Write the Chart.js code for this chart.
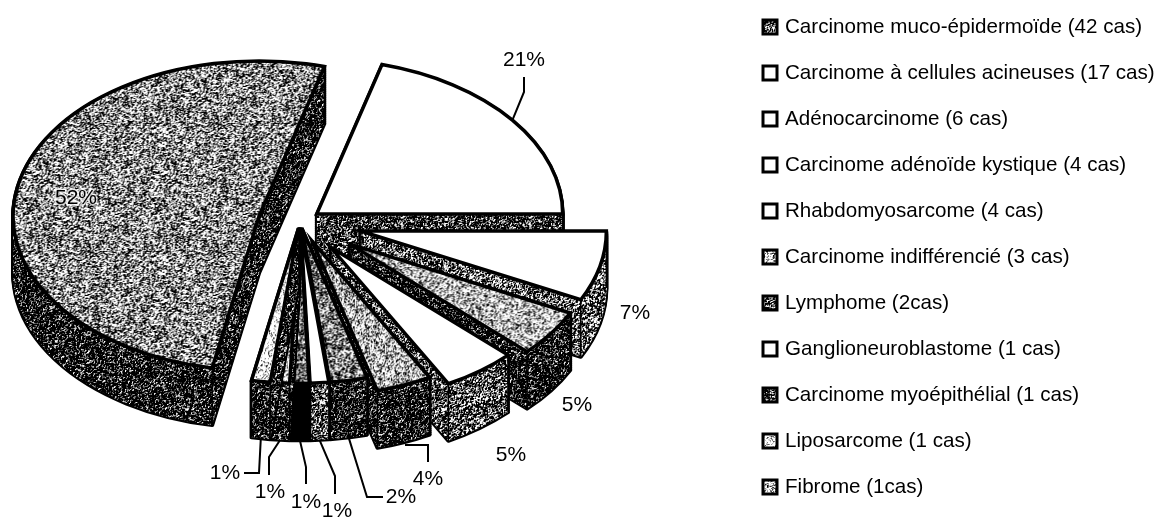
<!DOCTYPE html>
<html lang="fr">
<head>
<meta charset="UTF-8" />
<title>Répartition des tumeurs</title>
<script src="https://cdn.jsdelivr.net/npm/chart.js"></script>
<style>
    html, body { margin: 0; padding: 0; background: #fff; }
    #wrap { width: 1159px; height: 517px; position: relative; }
</style>
</head>
<body>
<div id="wrap"><canvas id="tumeurs" width="1159" height="517"></canvas></div>
<script>
// Valeurs
const categories = [
    'Carcinome muco-épidermoïde (42 cas)',
    'Carcinome à cellules acineuses (17 cas)',
    'Adénocarcinome (6 cas)',
    'Carcinome adénoïde kystique (4 cas)',
    'Rhabdomyosarcome (4 cas)',
    'Carcinome indifférencié (3 cas)',
    'Lymphome (2cas)',
    'Ganglioneuroblastome (1 cas)',
    'Carcinome myoépithélial (1 cas)',
    'Liposarcome (1 cas)',
    'Fibrome (1cas)',
];
const cas = [42, 17, 6, 4, 4, 3, 2, 1, 1, 1, 1];
const pourcentages = ['52%', '21%', '7%', '5%', '5%', '4%', '2%', '1%', '1%', '1%', '1%'];

// Trames (part de noir) : dessus, flanc, case de légende
const trameDessus = [0.46, 0, 0, 0.3, 0, 0.34, 0.52, 0, 0.6, 0.2, 0.1];
const trameFlanc = [0.86, 0.74, 0.6, 0.87, 0.66, 0.86, 0.87, 0.64, 1, 0.84, 0.84];
const trameLegende = [0.6, 0, 0, 0, 0, 0.25, 0.65, 0, 0.75, 0.12, 0.2];

// Réglages de la perspective
const RX = 246, RY = 155, EPAISSEUR = 57;
const CX = 300, CY = 222;
const eclatement = [42, 21, 62, 61, 51, 33, 10, 10, 10, 10, 10];

// Étiquettes : position du texte, puis coudes du trait de rappel
const etiquettes = [
    { x: 76, y: 198 },
    { x: 524, y: 60, coudes: [[524, 92], [524, 77]], depart: 'dessus' },
    { x: 635, y: 313 },
    { x: 577, y: 405 },
    { x: 511, y: 455 },
    { x: 428, y: 479, coudes: [[428, 445], [428, 462]], departX: 405, departY: 445 },
    { x: 401, y: 497, coudes: [[367, 497], [383, 497]] },
    { x: 337, y: 511, coudes: [[335, 476], [335, 494]] },
    { x: 306, y: 502, coudes: [[306, 467], [306, 484]] },
    { x: 270, y: 492, coudes: [[269, 457], [269, 475]] },
    { x: 225, y: 473, coudes: [[259, 473], [244, 473]] },
];

// Légende dessinée à la main : 11 lignes espacées de 46 px n'entrent pas dans celle de Chart.js
const LEGENDE_X = 763, LEGENDE_Y = 27, LEGENDE_PAS = 46;

// Grain de scan : générateur congruentiel pour que la trame soit toujours la même
function trame(part) {
    if (part <= 0) return '#ffffff';
    if (part >= 1) return '#000000';
    const taille = 128;
    const brut = new Float32Array(taille * taille);
    let s = 12345 + Math.round(part * 1000);
    for (let i = 0; i < brut.length; i++) {
        s = (s * 1103515245 + 12345) & 0x7fffffff;
        brut[i] = (s >> 16) / 32767;
    }
    // lissage léger pour faire des petits amas
    const lisse = new Float32Array(brut.length);
    for (let y = 0; y < taille; y++) {
        for (let x = 0; x < taille; x++) {
            const a = (x + 1) % taille, b = (y + 1) % taille;
            lisse[y * taille + x] = brut[y * taille + x]
                + 0.5 * brut[y * taille + a] + 0.5 * brut[b * taille + x];
        }
    }
    const seuil = Float32Array.from(lisse).sort()[Math.floor(part * lisse.length)];
    const c = document.createElement('canvas');
    c.width = c.height = taille;
    const g = c.getContext('2d');
    const img = g.createImageData(taille, taille);
    for (let i = 0; i < lisse.length; i++) {
        const v = Math.max(0, Math.min(255, 128 + (lisse[i] - seuil) * 320));
        img.data[i * 4] = img.data[i * 4 + 1] = img.data[i * 4 + 2] = v;
        img.data[i * 4 + 3] = 255;
    }
    g.putImageData(img, 0, 0);
    return g.createPattern(c, 'repeat');
}

const fondsDessus = trameDessus.map(trame);
const fondsFlanc = trameFlanc.map(trame);
const fondsLegende = trameLegende.map(trame);

// Centre écran d'une part éclatée
function centrePart(arc, i) {
    const mi = (arc.startAngle + arc.endAngle) / 2;
    return {
        x: CX + Math.cos(mi) * eclatement[i],
        y: CY + Math.sin(mi) * eclatement[i] * RY / RX,
    };
}

function tracerPart(ctx, arc, c, dy) {
    ctx.save();
    ctx.translate(c.x, c.y + dy);
    ctx.scale(RX / arc.outerRadius, RY / arc.outerRadius);
    ctx.beginPath();
    ctx.moveTo(0, 0);
    ctx.arc(0, 0, arc.outerRadius, arc.startAngle, arc.endAngle);
    ctx.closePath();
    ctx.restore();
}

const pie3d = {
    id: 'pie3d',
    beforeDatasetDraw(chart) {
        const ctx = chart.ctx;
        const arcs = chart.getDatasetMeta(0).data;
        // de l'arrière vers l'avant
        arcs.forEach((arc, i) => {
            const c = centrePart(arc, i);
            const kx = RX / arc.outerRadius, ky = RY / arc.outerRadius;
            ctx.save();
            ctx.lineJoin = 'round';
            ctx.strokeStyle = '#000';
            ctx.lineWidth = 4;
            for (let d = EPAISSEUR; d >= 0; d -= 2) {
                tracerPart(ctx, arc, c, d);
                ctx.stroke();
            }
            ctx.fillStyle = fondsFlanc[i];
            for (let d = EPAISSEUR; d >= 0; d -= 1) {
                tracerPart(ctx, arc, c, d);
                ctx.fill();
            }
            // arêtes verticales
            ctx.lineWidth = 1.5;
            [arc.startAngle, arc.endAngle].forEach((a) => {
                const x = c.x + Math.cos(a) * RX;
                const y = c.y + Math.sin(a) * RY;
                ctx.beginPath();
                ctx.moveTo(x, y);
                ctx.lineTo(x, y + EPAISSEUR);
                ctx.stroke();
            });
            // dessus, dessiné par l'élément du graphique ; le grain ne doit pas s'écraser
            const fond = fondsDessus[i];
            if (fond.setTransform) fond.setTransform(new DOMMatrix().scale(1 / kx, 1 / ky));
            ctx.save();
            ctx.translate(c.x, c.y);
            ctx.scale(kx, ky);
            ctx.translate(-arc.x, -arc.y);
            arc.draw(ctx);
            ctx.restore();
            ctx.lineJoin = 'miter';
            ctx.miterLimit = 8;
            ctx.lineWidth = 3.5;
            tracerPart(ctx, arc, c, 0);
            ctx.stroke();
            ctx.restore();
        });
        return false;
    },
    afterDraw(chart) {
        const ctx = chart.ctx;
        const arcs = chart.getDatasetMeta(0).data;
        ctx.save();
        ctx.font = '21px Arial, "Liberation Sans", sans-serif';
        ctx.textAlign = 'center';
        ctx.textBaseline = 'middle';
        etiquettes.forEach((e, i) => {
            // le 52% est posé sur la trame : petit liseré clair pour rester lisible
            if (i === 0) {
                ctx.strokeStyle = 'rgba(255, 255, 255, 0.75)';
                ctx.lineWidth = 3;
                ctx.strokeText(pourcentages[i], e.x, e.y);
            }
            ctx.fillStyle = '#000';
            ctx.fillText(pourcentages[i], e.x, e.y);
            if (!e.coudes) return;
            const arc = arcs[i];
            const c = centrePart(arc, i);
            const mi = (arc.startAngle + arc.endAngle) / 2;
            let x0 = c.x + Math.cos(mi) * RX;
            let y0 = c.y + Math.sin(mi) * RY + EPAISSEUR;
            if (e.depart === 'dessus') y0 -= EPAISSEUR;
            if (e.departX) { x0 = e.departX; y0 = e.departY; }
            ctx.strokeStyle = '#000';
            ctx.lineWidth = 2;
            ctx.beginPath();
            ctx.moveTo(x0, y0);
            e.coudes.forEach((p) => ctx.lineTo(p[0], p[1]));
            ctx.stroke();
        });
        // légende
        ctx.font = '20.6px Arial, "Liberation Sans", sans-serif';
        ctx.textAlign = 'left';
        ctx.strokeStyle = '#000';
        ctx.lineWidth = 3;
        categories.forEach((nom, i) => {
            const y = LEGENDE_Y + i * LEGENDE_PAS;
            ctx.fillStyle = fondsLegende[i];
            ctx.fillRect(LEGENDE_X, y - 7, 14, 14);
            ctx.strokeRect(LEGENDE_X, y - 7, 14, 14);
            ctx.fillStyle = '#000';
            ctx.fillText(nom, LEGENDE_X + 22, y);
        });
        ctx.restore();
    },
};

new Chart(document.getElementById('tumeurs'), {
    type: 'pie',
    data: {
        labels: categories,
        datasets: [{
            data: cas,
            backgroundColor: fondsDessus,
            borderWidth: 0,
        }],
    },
    options: {
        responsive: false,
        animation: false,
        rotation: 191,
        plugins: {
            tooltip: { enabled: false },
            legend: { display: false },
        },
    },
    plugins: [pie3d],
});
</script>
</body>
</html>
